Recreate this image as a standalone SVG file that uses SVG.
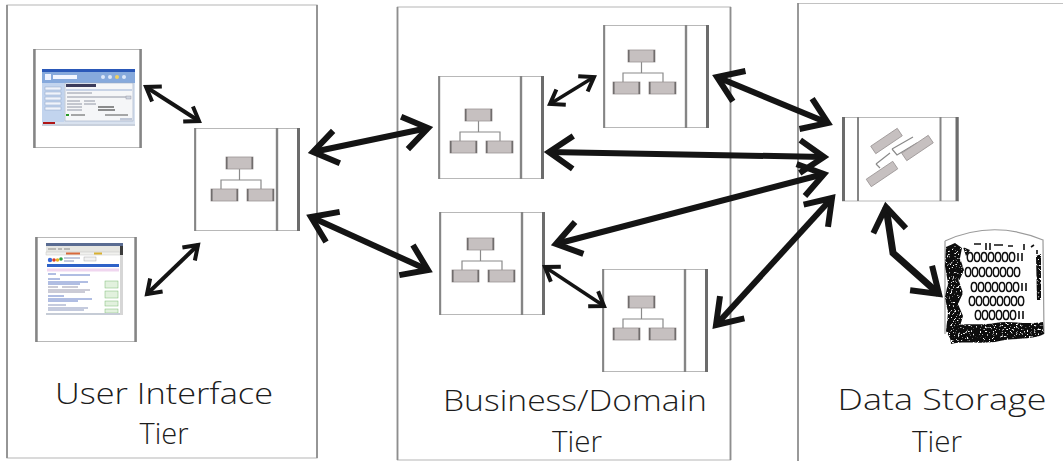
<svg xmlns="http://www.w3.org/2000/svg" width="1063" height="461" viewBox="0 0 1063 461">
  <style>
    .tier-v { stroke: #8e8e8e; stroke-width: 1.8; fill: none; }
    .tier-h { stroke: #c2c2c2; stroke-width: 1.2; fill: none; }
    .frame-h { stroke: #b8b8b8; stroke-width: 1; fill: none; }
    .frame-v { stroke: #858585; stroke-width: 2.4; fill: none; }
    .frame-d { stroke: #6c6c6c; stroke-width: 3; fill: none; }
    .org-box { fill: #c6c0c0; stroke: #9c9696; stroke-width: 0.8; }
    .org-edge { stroke: #6e6a6a; stroke-width: 1.5; }
    .org-link { stroke: #8a8a8a; stroke-width: 1.2; fill: none; }
    .label { font-family: "Open Sans", "Liberation Sans", sans-serif; font-weight: 300; font-size: 29px; fill: #1c1c1c; text-anchor: middle; }
    .conn { stroke: #141414; fill: none; stroke-linecap: butt; stroke-linejoin: miter; }
    .big { stroke-width: 6; marker-start: url(#headBig); marker-end: url(#headBig); }
    .small { stroke-width: 4; marker-start: url(#headSmall); marker-end: url(#headSmall); }
    .db-ring { fill: none; stroke: #111; stroke-width: 1.5; }
  </style>
  <defs>
    <marker id="headBig" markerUnits="userSpaceOnUse" orient="auto-start-reverse"
            viewBox="-30 -24 38 48" markerWidth="38" markerHeight="48" refX="0" refY="0">
      <path d="M-24,-16.5 L0,0 L-24,16.5" fill="none" stroke="#141414" stroke-width="6" stroke-linejoin="miter"/>
    </marker>
    <marker id="headSmall" markerUnits="userSpaceOnUse" orient="auto-start-reverse"
            viewBox="-18 -14 24 28" markerWidth="24" markerHeight="28" refX="0" refY="0">
      <path d="M-13,-9 L0,0 L-13,9" fill="none" stroke="#141414" stroke-width="4" stroke-linejoin="miter"/>
    </marker>

    <!-- component box: panel with a divider strip on the right -->
    <g id="compBox">
      <rect x="0.5" y="0.5" width="105" height="102" fill="#fff" class="frame-h"/>
      <line x1="1.2" y1="0" x2="1.2" y2="103" class="frame-v" style="stroke-width:2"/>
      <line x1="83" y1="0" x2="83" y2="103" class="frame-v"/>
      <line x1="104.5" y1="0" x2="104.5" y2="103" class="frame-d"/>
    </g>

    <!-- org-chart glyph -->
    <g id="org">
      <path class="org-link" d="M28.5,12 V23 M10,32 V23 H50 V32"/>
      <rect class="org-box" x="15" y="0" width="27" height="12"/>
      <rect class="org-box" x="0" y="32" width="27" height="12"/>
      <rect class="org-box" x="36" y="32" width="27" height="12"/>
      <path class="org-edge" d="M15.8,0 V12 M41.2,0 V12 M0.8,32 V44 M26.2,32 V44 M36.8,32 V44 M62.2,32 V44"/>
    </g>

    <filter id="soft" x="-5%" y="-5%" width="110%" height="110%">
      <feGaussianBlur stdDeviation="0.45"/>
    </filter>

    <!-- speckle holes for the scanned-ink look of the drum -->
    <filter id="grain" x="0" y="0" width="100%" height="100%">
      <feTurbulence type="fractalNoise" baseFrequency="0.55" numOctaves="2" seed="7" result="noise"/>
      <feColorMatrix in="noise" type="matrix" result="holes"
        values="0 0 0 0 0  0 0 0 0 0  0 0 0 0 0  9 0 0 0 -5.4"/>
      <feComposite in="SourceGraphic" in2="holes" operator="out"/>
    </filter>
  </defs>

  <rect width="1063" height="461" fill="#fff"/>

  <!-- tier panels -->
  <g id="tiers">
    <rect x="7" y="5" width="310" height="453" class="tier-h"/>
    <line x1="7" y1="5" x2="7" y2="458" class="tier-v"/>
    <line x1="317" y1="5" x2="317" y2="458" class="tier-v"/>

    <rect x="397.5" y="7" width="333" height="453" class="tier-h"/>
    <line x1="397.5" y1="7" x2="397.5" y2="460" class="tier-v"/>
    <line x1="730.5" y1="7" x2="730.5" y2="460" class="tier-v"/>

    <line x1="798" y1="3.5" x2="1063" y2="3.5" class="tier-h"/>
    <line x1="798" y1="3" x2="798" y2="461" class="tier-v"/>
  </g>

  <!-- desktop client window -->
  <g id="ui-desktop">
    <rect x="33.5" y="49.5" width="108" height="98" fill="#fff" class="frame-h"/>
    <line x1="34.5" y1="49" x2="34.5" y2="148" class="frame-v"/>
    <line x1="140.5" y1="49" x2="140.5" y2="148" class="frame-v"/>
    <g filter="url(#soft)">
      <rect x="42" y="69" width="93" height="57" fill="#d9e2ef"/>
      <rect x="42" y="69" width="93" height="3" fill="#2a58b8"/>
      <rect x="42" y="72" width="93" height="11" fill="#86a9dc"/>
      <rect x="45" y="74" width="6" height="6" fill="#eef3ff"/>
      <rect x="53" y="75" width="24" height="4" fill="#f2f6ff"/>
      <circle cx="103" cy="77" r="2" fill="#dde7f8"/>
      <circle cx="110" cy="77" r="2" fill="#dde7f8"/>
      <circle cx="117" cy="77" r="2" fill="#f0d060"/>
      <circle cx="124" cy="77" r="2" fill="#dde7f8"/>
      <rect x="42" y="83" width="22" height="39" fill="#c2d4ee"/>
      <rect x="45" y="87" width="16" height="3" fill="#f0f4fb" stroke="#8ea4c8" stroke-width="0.5"/>
      <rect x="45" y="92" width="16" height="3" fill="#f0f4fb" stroke="#8ea4c8" stroke-width="0.5"/>
      <rect x="45" y="97" width="16" height="3" fill="#f0f4fb" stroke="#8ea4c8" stroke-width="0.5"/>
      <rect x="45" y="102" width="16" height="3" fill="#f0f4fb" stroke="#8ea4c8" stroke-width="0.5"/>
      <rect x="45" y="107" width="16" height="3" fill="#f0f4fb" stroke="#8ea4c8" stroke-width="0.5"/>
      <rect x="65" y="83" width="68" height="38" fill="#f5f6f8" stroke="#9aaac2" stroke-width="0.6"/>
      <rect x="66" y="84" width="30" height="3" fill="#3a3a5a"/>
      <rect x="66" y="89" width="66" height="2" fill="#c8d3e6"/>
      <path d="M67,93 H92 M67,97 H130 M67,101 H80 M84,101 H95 M67,104 H82 M84,104 H96 M67,107 H82 M67,110 H82" stroke="#7a8090" stroke-width="0.8"/>
      <rect x="126" y="96" width="5" height="3" fill="#d0d6e0" stroke="#889" stroke-width="0.4"/>
      <path d="M98,107 H114 M98,110 H115" stroke="#222" stroke-width="1.2"/>
      <rect x="66" y="114" width="3" height="2" fill="#2a9a2a"/>
      <path d="M71,115 H85 M105,115 H128" stroke="#444" stroke-width="0.9"/>
      <rect x="120" y="118" width="12" height="2.5" fill="#c0c8d8"/>
      <rect x="43" y="122" width="12" height="2" fill="#b01818"/>
      <rect x="42" y="124" width="93" height="2" fill="#c9d1dd"/>
    </g>
  </g>

  <!-- web browser client -->
  <g id="ui-browser">
    <rect x="35.5" y="237.5" width="101" height="104" fill="#fff" class="frame-h"/>
    <line x1="36.5" y1="237" x2="36.5" y2="342" class="frame-v"/>
    <line x1="135.5" y1="237" x2="135.5" y2="342" class="frame-v"/>
    <g filter="url(#soft)">
      <rect x="46" y="243" width="77" height="72" fill="#fff"/>
      <rect x="46" y="243" width="77" height="3" fill="#5a6c92"/>
      <rect x="46" y="246" width="74" height="6" fill="#e6e6e2"/>
      <path d="M48,249 H56 M58,249 H62 M64,249 H70" stroke="#777" stroke-width="0.8"/>
      <rect x="46" y="252" width="74" height="3" fill="#f1f1ee" stroke="#bbb" stroke-width="0.4"/>
      <rect x="66" y="252.5" width="14" height="2" fill="#d86a3a"/>
      <rect x="94" y="252.5" width="8" height="2" fill="#d8b030"/>
      <circle cx="50" cy="260" r="2.2" fill="#3a6ad8"/>
      <circle cx="54" cy="260" r="1.8" fill="#d83a2a"/>
      <circle cx="57.5" cy="260" r="1.8" fill="#e8b020"/>
      <circle cx="61" cy="259" r="1.8" fill="#2aa040"/>
      <path d="M64,258 H80 M64,261 H74" stroke="#6a7aa8" stroke-width="0.8"/>
      <rect x="84" y="257" width="12" height="4" fill="#f2f2f2" stroke="#999" stroke-width="0.4"/>
      <rect x="47" y="264" width="72" height="3" fill="#2f62c8"/>
      <rect x="47" y="268.5" width="72" height="3" fill="#f0d6ef"/>
      <path d="M48,274 H56 M60,275 H90" stroke="#3a5ab8" stroke-width="0.8"/>
      <path d="M48,279 H60 M48,282 H88 M48,284 H80" stroke="#3a5ab8" stroke-width="0.8"/>
      <path d="M48,287 H58 M62,287 H78 M48,290 H90 M48,292 H85" stroke="#6a6a8a" stroke-width="0.7"/>
      <path d="M48,296 H64 M48,299 H92 M48,301 H78" stroke="#3a5ab8" stroke-width="0.8"/>
      <path d="M48,305 H66 M48,308 H88 M48,310 H84" stroke="#5a6aa0" stroke-width="0.7"/>
      <rect x="105" y="281" width="13" height="7" fill="#e2f1de" stroke="#7cbc74" stroke-width="0.5"/>
      <rect x="105" y="291" width="13" height="7" fill="#e2f1de" stroke="#7cbc74" stroke-width="0.5"/>
      <rect x="105" y="301" width="13" height="5" fill="#e2f1de" stroke="#7cbc74" stroke-width="0.5"/>
      <rect x="105" y="309" width="13" height="4" fill="#e2f1de" stroke="#7cbc74" stroke-width="0.5"/>
      <rect x="120" y="246" width="3" height="69" fill="#d6d6d6"/>
      <rect x="120" y="246" width="3" height="9" fill="#3a3a3a"/>
      <rect x="46" y="313" width="74" height="2" fill="#c6ccd6"/>
    </g>
  </g>

  <!-- presentation-side component -->
  <g id="ui-component">
    <use href="#compBox" x="194" y="128"/>
    <use href="#org" x="211" y="157"/>
  </g>

  <!-- business tier components -->
  <g id="biz-1">
    <use href="#compBox" x="438" y="76"/>
    <use href="#org" x="450" y="109"/>
  </g>
  <g id="biz-2">
    <use href="#compBox" x="603" y="25"/>
    <use href="#org" x="613" y="50"/>
  </g>
  <g id="biz-3">
    <use href="#compBox" x="439" y="212"/>
    <use href="#org" x="452" y="238"/>
  </g>
  <g id="biz-4">
    <use href="#compBox" x="602" y="269"/>
    <use href="#org" x="613" y="296"/>
  </g>

  <!-- data access component -->
  <g id="data-component">
    <rect x="842.5" y="117.5" width="116" height="83.5" fill="#fff" class="frame-h"/>
    <line x1="843.5" y1="117" x2="843.5" y2="201" class="frame-d"/>
    <line x1="858" y1="117" x2="858" y2="201" class="frame-v" style="stroke-width:2"/>
    <line x1="940.5" y1="117" x2="940.5" y2="201" class="frame-v" style="stroke-width:2"/>
    <line x1="957" y1="117" x2="957" y2="201" class="frame-d"/>
    <path class="org-link" d="M892,149 L913,137 M892,149 L897,155 L917,143 M890,153 L876,164 M876,164 L880,168"/>
    <rect class="org-box" x="-16" y="-4.5" width="32" height="9" transform="translate(886.5 141) rotate(-34)"/>
    <rect class="org-box" x="-16" y="-4.5" width="32" height="9" transform="translate(917.5 148) rotate(-34)"/>
    <rect class="org-box" x="-16" y="-4.5" width="32" height="9" transform="translate(882 174) rotate(-34)"/>
  </g>

  <!-- database drum -->
  <g id="database">
    <path d="M945,241 Q993,219 1043,240 L1044,334 M945,241 L945,334" fill="#fff" stroke="#9a9a9a" stroke-width="1.2"/>
    <g filter="url(#grain)">
      <path d="M946,247 L955,243 L962,248 L960,258 L964,270 L959,281 L963,293 L958,304 L963,316 L960,326 L966,332 L951,340 L946,331 L948,313 L945,297 L948,283 L945,266 Z" fill="#111"/>
      <path d="M949,327 C965,322 980,326 995,323 C1010,320 1025,325 1043,322 L1044,334 C1030,341 1012,337 995,342 C978,344 962,341 951,344 Z" fill="#111"/>
      <path d="M963,247 L970,250 L966,256 Z M1036,256 L1041,254 L1041,300 L1037,300 Z" fill="#111"/>
    </g>
    <path d="M974,244 H981 M986,243 V250 M990,243 V250 M994,245 H1003 M1008,246 H1013 M1024,244 V250 M1031,247 L1034,245 M1037,250 V254" stroke="#111" stroke-width="1.6"/>
    <g id="db-rows">
      <g>
        <ellipse class="db-ring" cx="970" cy="257" rx="2.7" ry="4.5"/><ellipse class="db-ring" cx="977" cy="257" rx="2.7" ry="4.5"/>
        <ellipse class="db-ring" cx="984" cy="257" rx="2.7" ry="4.5"/><ellipse class="db-ring" cx="991" cy="257" rx="2.7" ry="4.5"/>
        <ellipse class="db-ring" cx="998" cy="257" rx="2.7" ry="4.5"/><ellipse class="db-ring" cx="1005" cy="257" rx="2.7" ry="4.5"/>
        <ellipse class="db-ring" cx="1012" cy="257" rx="2.7" ry="4.5"/>
        <path d="M1018,253 V261 M1022,253 V261" stroke="#111" stroke-width="1.6"/>
      </g>
      <g>
        <ellipse class="db-ring" cx="968" cy="272" rx="2.7" ry="4.5"/><ellipse class="db-ring" cx="975" cy="272" rx="2.7" ry="4.5"/>
        <ellipse class="db-ring" cx="982" cy="272" rx="2.7" ry="4.5"/><ellipse class="db-ring" cx="989" cy="272" rx="2.7" ry="4.5"/>
        <ellipse class="db-ring" cx="996" cy="272" rx="2.7" ry="4.5"/><ellipse class="db-ring" cx="1003" cy="272" rx="2.7" ry="4.5"/>
        <ellipse class="db-ring" cx="1010" cy="272" rx="2.7" ry="4.5"/><ellipse class="db-ring" cx="1017" cy="272" rx="2.7" ry="4.5"/>
      </g>
      <g>
        <ellipse class="db-ring" cx="974" cy="287" rx="2.7" ry="4.5"/><ellipse class="db-ring" cx="981" cy="287" rx="2.7" ry="4.5"/>
        <ellipse class="db-ring" cx="988" cy="287" rx="2.7" ry="4.5"/><ellipse class="db-ring" cx="995" cy="287" rx="2.7" ry="4.5"/>
        <ellipse class="db-ring" cx="1002" cy="287" rx="2.7" ry="4.5"/><ellipse class="db-ring" cx="1009" cy="287" rx="2.7" ry="4.5"/>
        <ellipse class="db-ring" cx="1016" cy="287" rx="2.7" ry="4.5"/>
        <path d="M1022,283 V291 M1026,283 V291" stroke="#111" stroke-width="1.6"/>
      </g>
      <g>
        <ellipse class="db-ring" cx="972" cy="301" rx="2.7" ry="4.5"/><ellipse class="db-ring" cx="979" cy="301" rx="2.7" ry="4.5"/>
        <ellipse class="db-ring" cx="986" cy="301" rx="2.7" ry="4.5"/><ellipse class="db-ring" cx="993" cy="301" rx="2.7" ry="4.5"/>
        <ellipse class="db-ring" cx="1000" cy="301" rx="2.7" ry="4.5"/><ellipse class="db-ring" cx="1007" cy="301" rx="2.7" ry="4.5"/>
        <ellipse class="db-ring" cx="1014" cy="301" rx="2.7" ry="4.5"/><ellipse class="db-ring" cx="1021" cy="301" rx="2.7" ry="4.5"/>
      </g>
      <g>
        <ellipse class="db-ring" cx="978" cy="315" rx="2.7" ry="4.5"/><ellipse class="db-ring" cx="985" cy="315" rx="2.7" ry="4.5"/>
        <ellipse class="db-ring" cx="992" cy="315" rx="2.7" ry="4.5"/><ellipse class="db-ring" cx="999" cy="315" rx="2.7" ry="4.5"/>
        <ellipse class="db-ring" cx="1006" cy="315" rx="2.7" ry="4.5"/><ellipse class="db-ring" cx="1013" cy="315" rx="2.7" ry="4.5"/>
        <path d="M1019,311 V319 M1023,311 V319" stroke="#111" stroke-width="1.6"/>
      </g>
    </g>
  </g>

  <!-- connectors -->
  <g id="connectors">
    <line class="conn small" x1="146" y1="87" x2="199" y2="121"/>
    <line class="conn small" x1="147" y1="294" x2="198" y2="245"/>
    <line class="conn small" x1="550" y1="104" x2="594" y2="77" style="stroke-width:3.5"/>
    <line class="conn small" x1="545" y1="267" x2="604" y2="306" style="stroke-width:3.5"/>

    <line class="conn big" x1="313" y1="152" x2="428" y2="128"/>
    <line class="conn big" x1="311" y1="217" x2="428" y2="270"/>
    <line class="conn big" x1="717" y1="77" x2="828" y2="123"/>
    <line class="conn big" x1="549" y1="152" x2="824" y2="157"/>
    <line class="conn big" x1="556" y1="244" x2="824" y2="174"/>
    <line class="conn big" x1="716" y1="325" x2="832" y2="198"/>
    <polyline class="conn big" points="886,207 893,253 939,294" style="stroke-width:7"/>
  </g>

  <!-- tier captions -->
  <g id="captions">
    <text class="label" x="164" y="404" textLength="218" lengthAdjust="spacingAndGlyphs">User Interface</text>
    <text class="label" x="164" y="444" textLength="49" lengthAdjust="spacingAndGlyphs">Tier</text>
    <text class="label" x="575" y="411" textLength="264" lengthAdjust="spacingAndGlyphs">Business/Domain</text>
    <text class="label" x="577" y="452" textLength="50" lengthAdjust="spacingAndGlyphs">Tier</text>
    <text class="label" x="942" y="410" textLength="209" lengthAdjust="spacingAndGlyphs">Data Storage</text>
    <text class="label" x="937" y="452" textLength="50" lengthAdjust="spacingAndGlyphs">Tier</text>
  </g>
</svg>
